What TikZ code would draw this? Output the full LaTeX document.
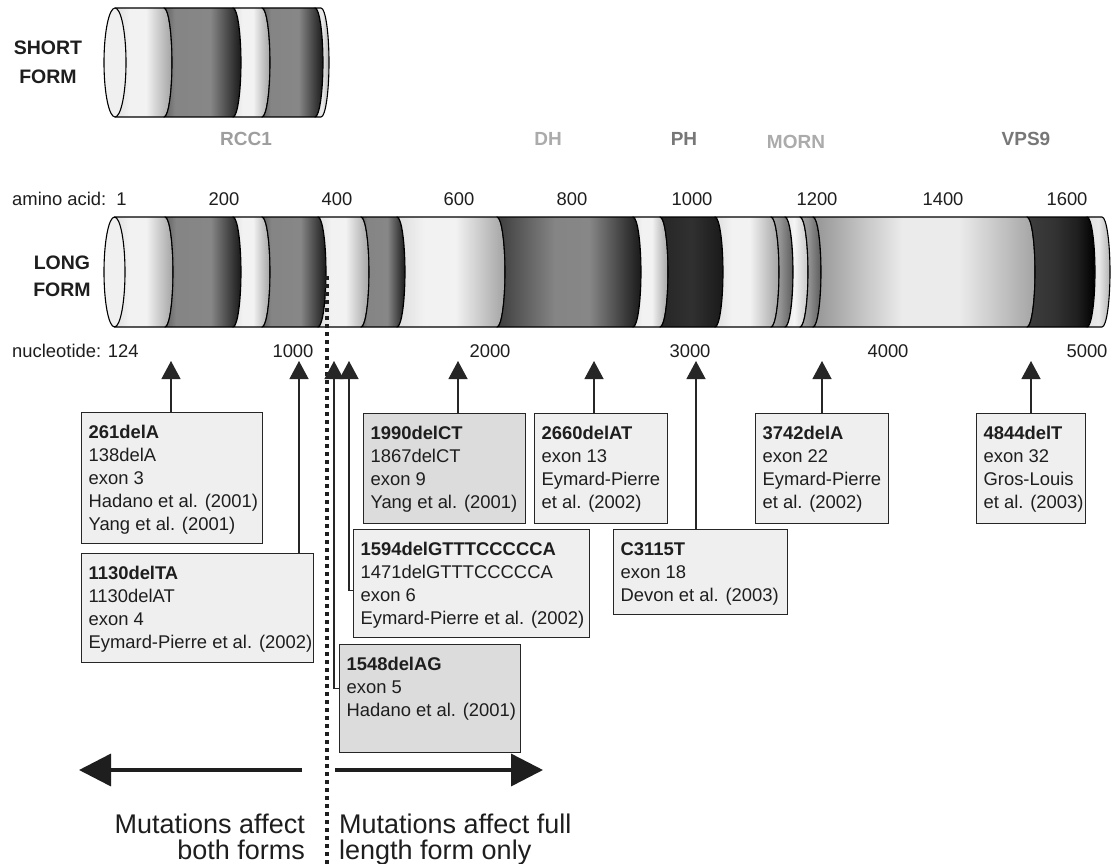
\documentclass[tikz,border=0pt]{standalone}
\usepackage{fontspec}
\setmainfont{Liberation Sans}
\usetikzlibrary{arrows.meta}

\definecolor{boxfill}{HTML}{EFEFEF}
\definecolor{boxfilldark}{HTML}{DCDCDC}
\definecolor{lineclr}{HTML}{262626}
\definecolor{txtclr}{HTML}{1E1E1E}
\definecolor{domdark}{HTML}{777777}
\definecolor{domlight}{HTML}{ABABAB}
\definecolor{domrcc}{HTML}{9E9E9E}

% horizontal shadings for the cylinder bands (central 50bp spans the band)
\pgfdeclarehorizontalshading{lightband}{100bp}{color(0bp)=(black!13); color(25bp)=(black!13); color(38bp)=(black!5); color(52bp)=(black!5); color(75bp)=(black!36); color(100bp)=(black!36)}
\pgfdeclarehorizontalshading{paleband}{100bp}{color(0bp)=(black!9); color(25bp)=(black!9); color(45bp)=(black!4); color(75bp)=(black!22); color(100bp)=(black!22)}
\pgfdeclarehorizontalshading{darkband}{100bp}{color(0bp)=(black!62); color(25bp)=(black!62); color(32bp)=(black!48); color(55bp)=(black!47); color(75bp)=(black!90); color(100bp)=(black!90)}
\pgfdeclarehorizontalshading{dhband}{100bp}{color(0bp)=(black!76); color(25bp)=(black!76); color(45bp)=(black!48); color(57bp)=(black!47); color(75bp)=(black!90); color(100bp)=(black!90)}
\pgfdeclarehorizontalshading{phband}{100bp}{color(0bp)=(black!85); color(25bp)=(black!85); color(50bp)=(black!81); color(75bp)=(black!90); color(100bp)=(black!90)}
\pgfdeclarehorizontalshading{vpsband}{100bp}{color(0bp)=(black!76); color(25bp)=(black!76); color(45bp)=(black!80); color(62bp)=(black!88); color(75bp)=(black!100); color(100bp)=(black!100)}
\pgfdeclarehorizontalshading{midband}{100bp}{color(0bp)=(black!36); color(25bp)=(black!36); color(45bp)=(black!42); color(75bp)=(black!64); color(100bp)=(black!64)}
\pgfdeclarehorizontalshading{longlight}{100bp}{color(0bp)=(black!42); color(25bp)=(black!42); color(45bp)=(black!8); color(58bp)=(black!8); color(75bp)=(black!36); color(100bp)=(black!36)}
\pgfdeclarehorizontalshading{endlight}{100bp}{color(0bp)=(black!12); color(25bp)=(black!12); color(50bp)=(black!8); color(75bp)=(black!30); color(100bp)=(black!30)}

\newcommand\bulge{8pt}
% one band of a cylinder: top y, half height, left x, right x, shading
\newcommand\cylband[5]{%
  \path[bandline, shading=#5, shade]
    (#3,#1) -- (#4,#1)
    arc[start angle=90, end angle=-90, x radius=\bulge, y radius=#2 pt]
    -- (#3,{#1-2*#2})
    arc[start angle=-90, end angle=90, x radius=\bulge, y radius=#2 pt] -- cycle;}

% mutation box body: width, height, lines
\newcommand\mutbody[3]{\vbox to #2{\hrule height 0pt width #1\relax\kern12pt #3\vfil}}
\newcommand\mln[1]{\hbox{\kern7pt\rule{0pt}{14pt}#1}}

\tikzset{
  bandline/.style={draw=black, line width=1.1pt, line join=round},
  ticklbl/.style={font=\fontsize{18.4}{22}\selectfont, inner sep=0pt, anchor=base, text=txtclr},
  domlbl/.style={font=\fontsize{19}{22}\selectfont\bfseries, inner sep=0pt, anchor=base},
  formlbl/.style={font=\fontsize{19.5}{26}\selectfont\bfseries, inner sep=0pt, anchor=base, text=txtclr},
  mutbox/.style={draw=lineclr, line width=1.2pt, fill=boxfill, inner sep=0pt, anchor=north west,
    font=\fontsize{18.4}{23}\selectfont, text=txtclr},
  mutboxdk/.style={mutbox, fill=boxfilldark},
  mutarrow/.style={draw=lineclr, line width=1.2pt, -{Triangle[width=19pt,length=18pt]}},
  bigarrow/.style={draw=txtclr, line width=3.5pt, -{Triangle[width=32pt,length=32pt]}},
  dotline/.style={draw=txtclr, line width=3.6pt, dash pattern=on 3.6pt off 4.4pt},
  bottomtxt/.style={font=\fontsize{27}{25}\selectfont, inner sep=0pt, text=txtclr},
}

\begin{document}
\begin{tikzpicture}[x=1pt,y=1pt]
\useasboundingbox (0,0) rectangle (1116,-864);
\fill[white] (0,0) rectangle (1116,-864);

% ---- short form cylinder ----
\cylband{-8}{54.5}{115}{164}{lightband}
\cylband{-8}{54.5}{164}{233}{darkband}
\cylband{-8}{54.5}{233}{262}{lightband}
\cylband{-8}{54.5}{262}{315}{darkband}
\cylband{-8}{54.5}{315}{321}{endlight}
\draw[bandline, fill=black!6] (115,-62.5) ellipse [x radius=11pt, y radius=54.5pt];

\node[formlbl] (shortA) at (48,-55) {SHORT};
\node[formlbl] (shortB) at (48,-84) {FORM};

% ---- domain labels ----
\node[domlbl, text=domrcc]   (rcc1) at (246,-146) {RCC1};
\node[domlbl, text=domlight] (dh)   at (548,-146) {DH};
\node[domlbl, text=domdark]  (ph)   at (684,-146) {PH};
\node[domlbl, text=domlight] (morn) at (796,-149) {MORN};
\node[domlbl, text=domdark]  (vps9) at (1026,-146) {VPS9};

% ---- amino acid scale ----
\node[ticklbl, anchor=base west] (aalbl) at (12,-205) {amino acid:\ \ 1};
\node[ticklbl] (aa200)  at (224,-205) {200};
\node[ticklbl] (aa400)  at (337,-205) {400};
\node[ticklbl] (aa600)  at (459,-205) {600};
\node[ticklbl] (aa800)  at (572,-205) {800};
\node[ticklbl] (aa1000) at (692,-205) {1000};
\node[ticklbl] (aa1200) at (817,-205) {1200};
\node[ticklbl] (aa1400) at (943,-205) {1400};
\node[ticklbl] (aa1600) at (1067,-205) {1600};

% ---- long form cylinder ----
\cylband{-217}{55}{114.5}{165}{lightband}
\cylband{-217}{55}{165}{233}{darkband}
\cylband{-217}{55}{233}{262}{lightband}
\cylband{-217}{55}{262}{318}{darkband}
\cylband{-217}{55}{318}{361}{lightband}
\cylband{-217}{55}{361}{397}{darkband}
\cylband{-217}{55}{397}{497}{lightband}
\cylband{-217}{55}{497}{633}{dhband}
\cylband{-217}{55}{633}{660}{lightband}
\cylband{-217}{55}{660}{715}{phband}
\cylband{-217}{55}{715}{771}{lightband}
\cylband{-217}{55}{771}{785}{midband}
\cylband{-217}{55}{785}{800}{paleband}
\cylband{-217}{55}{800}{813}{midband}
\cylband{-217}{55}{813}{1027}{longlight}
\cylband{-217}{55}{1027}{1087}{vpsband}
\cylband{-217}{55}{1087}{1102}{endlight}
\draw[bandline, fill=black!6] (114.5,-272) ellipse [x radius=10.5pt, y radius=55pt];

\node[formlbl] (longA) at (62,-269) {LONG};
\node[formlbl] (longB) at (62,-296) {FORM};

% ---- nucleotide scale ----
\node[ticklbl, anchor=base west] (ntlbl) at (12,-357) {nucleotide: 124};
\node[ticklbl] (nt1000) at (293,-357) {1000};
\node[ticklbl] (nt2000) at (490,-357) {2000};
\node[ticklbl] (nt3000) at (690,-357) {3000};
\node[ticklbl] (nt4000) at (888,-357) {4000};
\node[ticklbl] (nt5000) at (1087,-357) {5000};

% ---- boundary between the two forms ----
\coordinate (dtop) at (327,-276);
\coordinate (dbot) at (327,-864);
\draw[dotline] (dtop) -- (dbot);

% ---- mutation positions ----
\coordinate (p261)  at (171,-361);
\coordinate (p1130) at (299,-361);
\coordinate (p1548) at (334,-361);
\coordinate (p1594) at (349,-361);
\coordinate (p1990) at (458,-361);
\coordinate (p2660) at (594,-361);
\coordinate (p3115) at (696,-361);
\coordinate (p3742) at (822,-361);
\coordinate (p4844) at (1031,-361);

% ---- mutation boxes ----
\node[mutbox] (b261) at (81,-412) {\mutbody{181pt}{131pt}{%
  \mln{\bfseries 261delA}\mln{138delA}\mln{exon 3}\mln{Hadano et al. (2001)}\mln{Yang et al. (2001)}}};
\node[mutbox] (b1130) at (81,-553) {\mutbody{232pt}{109pt}{%
  \mln{\bfseries 1130delTA}\mln{1130delAT}\mln{exon 4}\mln{Eymard-Pierre et al. (2002)}}};
\node[mutboxdk] (b1548) at (339,-644) {\mutbody{181pt}{108pt}{%
  \mln{\bfseries 1548delAG}\mln{exon 5}\mln{Hadano et al. (2001)}}};
\node[mutbox] (b1594) at (353,-529) {\mutbody{236pt}{108pt}{%
  \mln{\bfseries 1594delGTTTCCCCCA}\mln{1471delGTTTCCCCCA}\mln{exon 6}\mln{Eymard-Pierre et al. (2002)}}};
\node[mutboxdk] (b1990) at (363,-413) {\mutbody{162pt}{110pt}{%
  \mln{\bfseries 1990delCT}\mln{1867delCT}\mln{exon 9}\mln{Yang et al. (2001)}}};
\node[mutbox] (b2660) at (534,-413) {\mutbody{133pt}{110pt}{%
  \mln{\bfseries 2660delAT}\mln{exon 13}\mln{Eymard-Pierre}\mln{et al. (2002)}}};
\node[mutbox] (b3115) at (613,-529) {\mutbody{174pt}{85pt}{%
  \mln{\bfseries C3115T}\mln{exon 18}\mln{Devon et al. (2003)}}};
\node[mutbox] (b3742) at (755,-413) {\mutbody{133pt}{110pt}{%
  \mln{\bfseries 3742delA}\mln{exon 22}\mln{Eymard-Pierre}\mln{et al. (2002)}}};
\node[mutbox] (b4844) at (976,-413) {\mutbody{109pt}{110pt}{%
  \mln{\bfseries 4844delT}\mln{exon 32}\mln{Gros-Louis}\mln{et al. (2003)}}};

% ---- connectors from boxes to positions ----
\draw[mutarrow] (b261.north -| p261) -- (p261);
\draw[mutarrow] (b1130.north -| p1130) -- (p1130);
\draw[mutarrow] ([yshift=10pt]b1548.west) -| (p1548);
\draw[mutarrow] ([yshift=-7pt]b1594.west) -| (p1594);
\draw[mutarrow] (b1990.north -| p1990) -- (p1990);
\draw[mutarrow] (b2660.north -| p2660) -- (p2660);
\draw[mutarrow] (b3115.north -| p3115) -- (p3115);
\draw[mutarrow] (b3742.north -| p3742) -- (p3742);
\draw[mutarrow] (b4844.north -| p4844) -- (p4844);

% ---- legend arrows and captions ----
\coordinate (lfrom) at (302,-770);
\coordinate (lto)   at (79,-770);
\coordinate (rfrom) at (335,-770);
\coordinate (rto)   at (543,-770);
\draw[bigarrow] (lfrom) -- (lto);
\draw[bigarrow] (rfrom) -- (rto);

\node[bottomtxt, anchor=base east] (bothA) at (305,-833) {Mutations affect};
\node[bottomtxt, anchor=base east] (bothB) at (305,-859) {both forms};
\node[bottomtxt, anchor=base west] (fullA) at (339,-833) {Mutations affect full};
\node[bottomtxt, anchor=base west] (fullB) at (339,-859) {length form only};
\end{tikzpicture}
\end{document}
